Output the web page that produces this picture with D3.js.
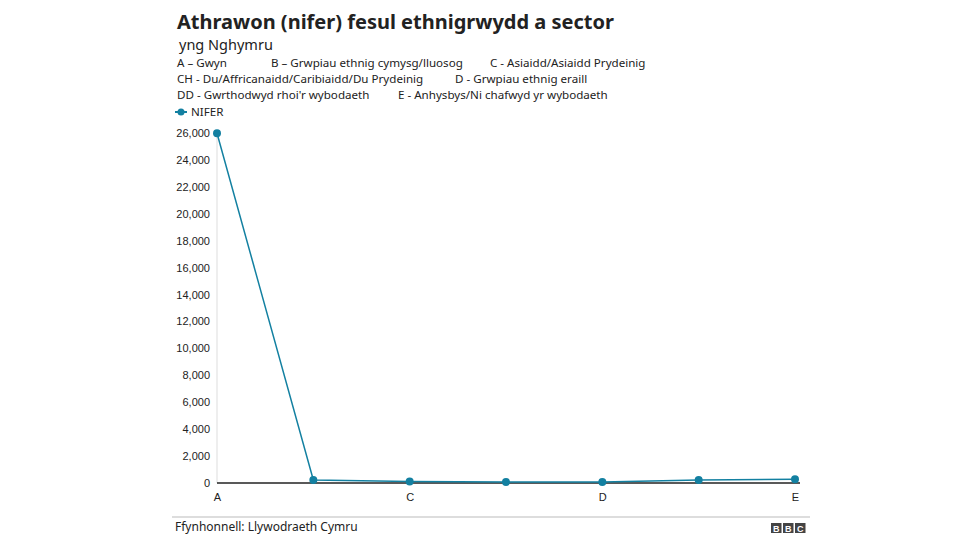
<!DOCTYPE html>
<html><head><meta charset="utf-8">
<script src="https://cdn.jsdelivr.net/npm/d3@7"></script>
<style>
body{margin:0;background:#fff;}
svg{display:block;}
</style></head>
<body>
<svg id="c" width="976" height="549"></svg>
<script>
const categories = ["A","B","C","CH","D","DD","E"];
const values = [25980, 220, 120, 70, 70, 220, 270];
const xTickLabels = ["A","C","D","E"];
const yTicks = [0,2000,4000,6000,8000,10000,12000,14000,16000,18000,20000,22000,24000,26000];
const legendRows = [
  [["A – Gwyn",177],["B – Grwpiau ethnig cymysg/lluosog",271],["C - Asiaidd/Asiaidd Prydeinig",490]],
  [["CH - Du/Affricanaidd/Caribiaidd/Du Prydeinig",177],["D - Grwpiau ethnig eraill",455]],
  [["DD - Gwrthodwyd rhoi'r wybodaeth",177],["E - Anhysbys/Ni chafwyd yr wybodaeth",398]]
];
const seriesName = "NIFER";
const color = "#1380a1";
const font = "'Noto Sans', 'Open Sans', sans-serif";

const svg = d3.select("#c");
svg.append("text").attr("x",177).attr("y",29).attr("font-family",font).attr("font-weight","bold")
  .attr("font-size",20).attr("fill","#222").text("Athrawon (nifer) fesul ethnigrwydd a sector");
svg.append("text").attr("x",179).attr("y",50).attr("font-family",font)
  .attr("font-size",14.5).attr("fill","#222").text("yng Nghymru");
legendRows.forEach((row,i)=>{
  row.forEach(([t,x])=>{
    svg.append("text").attr("x",x).attr("y",67+i*16).attr("font-family",font)
      .attr("font-size",11.6).attr("fill","#222").text(t);
  });
});
// series legend
svg.append("line").attr("x1",175).attr("x2",187).attr("y1",112).attr("y2",112).attr("stroke",color).attr("stroke-width",2);
svg.append("circle").attr("cx",181).attr("cy",112).attr("r",3.5).attr("fill",color);
svg.append("text").attr("x",191).attr("y",116).attr("font-family",font).attr("font-size",11.6).attr("fill","#222").text(seriesName);

const x = d3.scalePoint().domain(categories).range([217,795]);
const y = d3.scaleLinear().domain([0,26000]).range([483,133]);

// left light axis line
svg.append("line").attr("x1",217).attr("x2",217).attr("y1",y(26000)).attr("y2",y(0)).attr("stroke","#ddd").attr("stroke-width",1);

const yAxis = svg.append("g").attr("transform","translate(217,0)")
  .call(d3.axisLeft(y).tickValues(yTicks).tickSize(0).tickPadding(7).tickFormat(d3.format(",")));
yAxis.select(".domain").remove();
yAxis.selectAll("text").attr("font-family","'Liberation Sans', Arial, sans-serif").attr("font-size",11).attr("fill","#222");

const xAxis = svg.append("g").attr("transform",`translate(0,${y(0)})`)
  .call(d3.axisBottom(x).tickValues(xTickLabels).tickSize(0).tickPadding(10));
xAxis.select(".domain").remove();
xAxis.selectAll("text").attr("font-family","'Liberation Sans', Arial, sans-serif").attr("font-size",11).attr("fill","#222");

svg.append("line").attr("x1",217).attr("x2",800).attr("y1",y(0)).attr("y2",y(0)).attr("stroke","#222").attr("stroke-width",1.5);

const data = categories.map((c,i)=>({c,v:values[i]}));
svg.append("path").datum(data).attr("fill","none").attr("stroke",color).attr("stroke-width",1.5)
  .attr("d",d3.line().x(d=>x(d.c)).y(d=>y(d.v)));
svg.selectAll("circle.pt").data(data).join("circle").attr("class","pt")
  .attr("cx",d=>x(d.c)).attr("cy",d=>y(d.v)).attr("r",4).attr("fill",color);

// footer
svg.append("line").attr("x1",172).attr("x2",810).attr("y1",517).attr("y2",517).attr("stroke","#bbb").attr("stroke-width",1);
svg.append("text").attr("x",175).attr("y",531).attr("font-family",font).attr("font-size",12).attr("fill","#222").text("Ffynhonnell: Llywodraeth Cymru");
const bbc = svg.append("g").attr("transform","translate(771,523)");
["B","B","C"].forEach((l,i)=>{
  bbc.append("rect").attr("x",i*12).attr("y",0).attr("width",10.5).attr("height",10).attr("fill","#444");
  bbc.append("text").attr("x",i*12+5.25).attr("y",8.5).attr("text-anchor","middle").attr("font-family","'Liberation Sans', Arial, sans-serif")
    .attr("font-weight","bold").attr("font-size",9).attr("fill","#fff").text(l);
});
</script>
</body></html>
